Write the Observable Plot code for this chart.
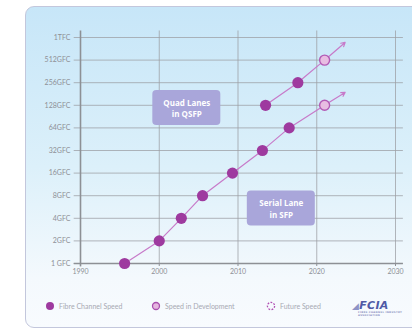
<!DOCTYPE html>
<html>
<head>
<meta charset="utf-8">
<script src="https://cdn.jsdelivr.net/npm/d3@7"></script>
<script src="https://cdn.jsdelivr.net/npm/@observablehq/plot@0.6"></script>
<style>
  html, body { margin: 0; padding: 0; background: #ffffff; width: 412px; height: 329px; overflow: hidden; }
  #panel {
    position: absolute; left: 25px; top: 6px; width: 400px; height: 320px;
    border-radius: 9px; border: 1px solid #c3c7dc;
    background: linear-gradient(to bottom, #c7e6f8 0%, #dcf0fa 50%, #f4f9fd 85%, #f8fbfe 100%);
  }
  #chart { position: absolute; left: 0; top: 0; }
  #legend {
    position: absolute; left: 0; top: 299px; width: 412px; height: 16px;
    font-family: "Lato", "Open Sans", sans-serif; font-size: 7px; color: #a7a9b3;
  }
  .item { position: absolute; top: 2px; display: flex; align-items: center; gap: 4px; white-space: nowrap; }
  .logo { position: absolute; left: 352px; top: 0px; font-family: "DejaVu Sans", sans-serif; font-weight: bold; font-style: italic; font-size: 11px; color: #4f5aa6; letter-spacing: 0.3px; }
</style>
</head>
<body>
<div id="panel"></div>
<div id="chart"></div>
<div id="legend">
  <div class="item" style="left:45px"><svg width="10" height="10"><circle cx="5" cy="5" r="4" fill="#9e3a9f"/></svg>Fibre Channel Speed</div>
  <div class="item" style="left:151px"><svg width="10" height="10"><circle cx="5" cy="5" r="3.5" fill="#e6b6df" stroke="#a94fae" stroke-width="1.3"/></svg>Speed in Development</div>
  <div class="item" style="left:266px"><svg width="10" height="10"><circle cx="5" cy="5" r="3.6" fill="none" stroke="#b04fb3" stroke-width="1.3" stroke-dasharray="1.8 1.4"/></svg>Future Speed</div>
  <div class="logo"><span style="color:#8d93c6;font-size:9px">◢</span>FCIA<div style="font-size:2.5px;color:#8a90c0;font-style:normal;margin-top:-1px;margin-left:6px">FIBRE CHANNEL INDUSTRY ASSOCIATION</div></div>
</div>
<script>
// ---- data ----
const speedValues = [1, 2, 4, 8, 16, 32, 64, 128, 256, 512, 1024];
const speedLabels = ["1 GFC", "2GFC", "4GFC", "8GFC", "16GFC", "32GFC", "64GFC", "128GFC", "256GFC", "512GFC", "1TFC"];
const yearTicks = [1990, 2000, 2010, 2020, 2030];

const serialYears  = [1995.6, 2000, 2002.8, 2005.5, 2009.3, 2013.1, 2016.5, 2021.0];
const serialSpeeds = [1, 2, 4, 8, 16, 32, 64, 128];
const serialStatus = ["current", "current", "current", "current", "current", "current", "current", "development"];

const quadYears  = [2013.5, 2017.6, 2021.0];
const quadSpeeds = [128, 256, 512];
const quadStatus = ["current", "current", "development"];

// where the trend arrows point after the last point
const futureYears  = [2023.6, 2023.6];
const futureSpeeds = [190, 880];

const noteTexts = ["Quad Lanes\nin QSFP", "Serial Lane\nin SFP"];
const noteYears = [2003.5, 2015.5];
const noteSpeeds = [118, 5.4];

// ---- build tables ----
const series = [
  {years: serialYears, speeds: serialSpeeds, status: serialStatus, fy: futureYears[0], fs: futureSpeeds[0]},
  {years: quadYears, speeds: quadSpeeds, status: quadStatus, fy: futureYears[1], fs: futureSpeeds[1]}
];
const points = [];
const segments = [];
for (const s of series) {
  s.years.forEach((y, i) => points.push({year: y, speed: s.speeds[i], status: s.status[i]}));
  for (let i = 0; i < s.years.length - 1; i++) {
    segments.push({x1: s.years[i], y1: s.speeds[i], x2: s.years[i + 1], y2: s.speeds[i + 1], last: false});
  }
  const n = s.years.length - 1;
  segments.push({x1: s.years[n], y1: s.speeds[n], x2: s.fy, y2: s.fs, last: true});
}
const notes = noteTexts.map((t, i) => ({text: t, year: noteYears[i], speed: noteSpeeds[i]}));
const labelOf = new Map(speedValues.map((v, i) => [v, speedLabels[i]]));

const purple = "#9e3a9f";
const arrowColor = "#c77ac9";
const gridColor = "#9c9fa4";

const chart = Plot.plot({
  width: 412,
  height: 285,
  marginLeft: 80,
  marginRight: 17,
  marginTop: 37,
  marginBottom: 22,
  style: {background: "transparent", fontFamily: "Lato, 'Open Sans', sans-serif", fontSize: "7px", color: "#8e9096"},
  x: {domain: [1990, 2030], ticks: yearTicks, tickFormat: "d", tickSize: 3, tickPadding: 3, label: null},
  y: {type: "log", base: 2, domain: [1, 1024], ticks: speedValues, tickFormat: d => labelOf.get(d), tickSize: 0, tickPadding: 10, label: null},
  marks: [
    Plot.ruleY(speedValues, {y: d => d, x1: 1989.2, x2: 2031, stroke: gridColor, strokeWidth: 0.9, strokeOpacity: 0.85, clip: false}),
    Plot.ruleX(yearTicks.slice(1), {x: d => d, y1: 1, y2: 1250, stroke: gridColor, strokeWidth: 0.9, strokeOpacity: 0.85, clip: false}),
    Plot.ruleX([1990], {y1: 0.9, y2: 1250, stroke: "#8d9095", strokeWidth: 1.6}),
    Plot.ruleY([1], {x1: 1989.2, x2: 2031, stroke: "#8d9095", strokeWidth: 1.6}),
    Plot.arrow(segments, {
      x1: "x1", y1: "y1", x2: "x2", y2: "y2",
      stroke: arrowColor, strokeWidth: 1.2, headLength: 5.5,
      insetStart: 6, insetEnd: d => d.last ? 0 : 6.5
    }),
    Plot.dot(points.filter(d => d.status === "current"), {x: "year", y: "speed", r: 5.6, fill: purple}),
    Plot.dot(points.filter(d => d.status === "development"), {x: "year", y: "speed", r: 5, fill: "#e8bde2", stroke: "#b25ab5", strokeWidth: 1.4}),
    // annotation boxes
    Plot.dot(notes, {
      x: "year", y: "speed",
      render(index, scales, values) {
        const g = d3.create("svg:g");
        for (const i of index) {
          g.append("rect")
            .attr("x", values.x[i] - 34).attr("y", values.y[i] - 17.5)
            .attr("width", 68).attr("height", 35).attr("rx", 4)
            .attr("fill", "#a9a6da");
        }
        return g.node();
      }
    }),
    Plot.text(notes, {x: "year", y: "speed", text: "text", fill: "#ffffff", fontWeight: "bold", fontSize: 8, lineHeight: 1.45, fontFamily: "'Open Sans', sans-serif"})
  ]
});
document.getElementById("chart").appendChild(chart);
</script>
</body>
</html>
